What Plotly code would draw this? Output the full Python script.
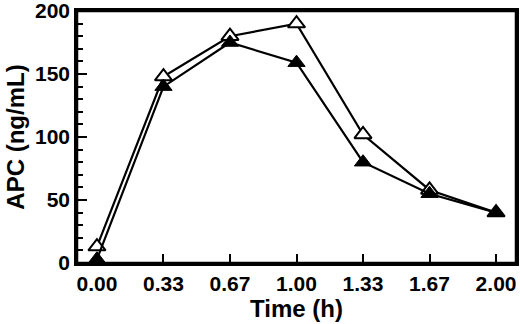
import plotly.graph_objects as go

time_labels = ["0.00", "0.33", "0.67", "1.00", "1.33", "1.67", "2.00"]
open_series = [13, 148, 180, 190, 102, 58, 40]
filled_series = [3, 140, 175, 159, 80, 55, 40]
y_ticks = [0, 50, 100, 150, 200]

fnt = dict(family="Liberation Sans, Arial, sans-serif", color="black", weight="bold")
ink = "rgb(0,0,0)"

fig = go.Figure()
fig.add_trace(go.Scatter(
    x=time_labels, y=open_series, mode="lines+markers",
    line=dict(color=ink, width=2.2),
    marker=dict(symbol="triangle-up", size=15, color="white",
                line=dict(color=ink, width=2)),
    cliponaxis=False, showlegend=False))
fig.add_trace(go.Scatter(
    x=time_labels, y=filled_series, mode="lines+markers",
    line=dict(color=ink, width=2.2),
    marker=dict(symbol="triangle-up", size=15, color=ink,
                line=dict(color=ink, width=1)),
    cliponaxis=False, showlegend=False))

fig.update_layout(
    width=520, height=324,
    margin=dict(l=77, r=4, t=11, b=61),
    paper_bgcolor="white", plot_bgcolor="white",
    font=fnt,
)
# frame box around the plotting area
fig.add_shape(type="rect", xref="paper", yref="paper", x0=0, y0=0, x1=1, y1=1,
              line=dict(color=ink, width=2.5), layer="above")
fig.update_xaxes(
    type="category", range=[-0.3, 6.3], automargin=False,
    showline=True, linecolor=ink, linewidth=2.5, mirror=True,
    ticks="inside", ticklen=9, tickwidth=2, tickcolor=ink,
    showgrid=False, zeroline=False,
    tickfont=dict(size=21, **fnt),
    title=dict(text="Time (h)", font=dict(size=24, **fnt), standoff=2),
)
fig.update_yaxes(
    range=[0, 200], tickvals=y_ticks, automargin=False,
    showline=True, linecolor=ink, linewidth=2.5, mirror=True,
    ticks="inside", ticklen=10, tickwidth=2, tickcolor=ink,
    minor=dict(dtick=10, ticks="inside", ticklen=6, tickwidth=1.5, tickcolor=ink, showgrid=False),
    showgrid=False, zeroline=False, ticklabeloverflow="allow",
    tickfont=dict(size=21, **fnt),
    title=dict(text="APC (ng/mL)", font=dict(size=24, **fnt), standoff=4),
)

fig.write_html("out.html", config={"displayModeBar": False},
               post_script="document.body.style.margin='0';")
